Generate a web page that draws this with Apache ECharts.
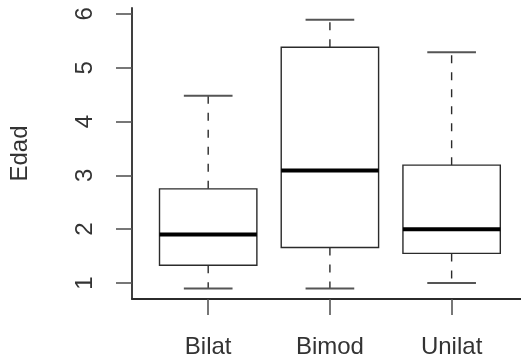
<!DOCTYPE html>
<html>
<head>
<meta charset="utf-8">
<script src="https://cdn.jsdelivr.net/npm/echarts@6/dist/echarts.min.js"></script>
<style>
  html, body { margin: 0; padding: 0; background: #fff; }
  #chart { width: 521px; height: 363px; }
</style>
</head>
<body>
<div id="chart"></div>
<script>
// Box-and-whisker summary of age per group
const categories = ['Bilat', 'Bimod', 'Unilat'];
const lowerWhisker = [0.9, 0.9, 1.0];
const lowerQuartile = [1.33, 1.66, 1.55];
const medians = [1.9, 3.09, 2.0];
const upperQuartile = [2.75, 5.38, 3.19];
const upperWhisker = [4.48, 5.89, 5.29];
const yTicks = [1, 2, 3, 4, 5, 6];

const boxData = categories.map((c, i) => [
  i + 1, lowerWhisker[i], lowerQuartile[i], medians[i], upperQuartile[i], upperWhisker[i]
]);

const FONT = '"Liberation Sans", Arial, Helvetica, sans-serif';
const INK = '#2b2b2b';

function renderBox(params, api) {
  const x = api.value(0);
  const pLow = api.coord([x, api.value(1)]);
  const pQ1 = api.coord([x, api.value(2)]);
  const pMed = api.coord([x, api.value(3)]);
  const pQ3 = api.coord([x, api.value(4)]);
  const pHigh = api.coord([x, api.value(5)]);
  const boxHalf = api.size([0.4, 0])[0];
  const capHalf = api.size([0.2, 0])[0];
  const cx = pMed[0];
  const thin = { stroke: INK, lineWidth: 1.4, fill: null };
  const dashed = { stroke: INK, lineWidth: 1.4, lineDash: [8, 9] };
  const capStyle = { stroke: '#555', lineWidth: 2 };
  return {
    type: 'group',
    children: [
      { type: 'line', shape: { x1: cx, y1: pQ1[1], x2: cx, y2: pLow[1] }, style: dashed },
      { type: 'line', shape: { x1: cx, y1: pQ3[1], x2: cx, y2: pHigh[1] }, style: dashed },
      { type: 'line', shape: { x1: cx - capHalf, y1: pLow[1], x2: cx + capHalf, y2: pLow[1] }, style: capStyle },
      { type: 'line', shape: { x1: cx - capHalf, y1: pHigh[1], x2: cx + capHalf, y2: pHigh[1] }, style: capStyle },
      { type: 'rect', shape: { x: cx - boxHalf, y: pQ3[1], width: boxHalf * 2, height: pQ1[1] - pQ3[1] }, style: Object.assign({}, thin, { fill: '#fff' }) },
      { type: 'line', shape: { x1: cx - boxHalf, y1: pMed[1], x2: cx + boxHalf, y2: pMed[1] }, style: { stroke: '#000', lineWidth: 4 } }
    ]
  };
}

const chart = echarts.init(document.getElementById('chart'), null, { renderer: 'canvas' });
chart.setOption({
  animation: false,
  backgroundColor: '#fff',
  grid: { left: 129, right: 0, top: 8, bottom: 64, containLabel: false },
  xAxis: {
    type: 'value',
    min: 0.374,
    max: 3.57,
    splitLine: { show: false },
    axisLine: { show: true, onZero: false, lineStyle: { color: INK, width: 1.8 } },
    axisTick: { show: true, length: 16, customValues: [1, 2, 3], lineStyle: { color: '#555', width: 1.6 } },
    axisLabel: {
      customValues: [1, 2, 3],
      formatter: v => categories[Math.round(v) - 1] || '',
      margin: 36,
      fontSize: 24,
      fontFamily: FONT,
      color: '#333'
    }
  },
  yAxis: {
    type: 'value',
    min: 0.703,
    max: 6.11,
    name: 'Edad',
    nameLocation: 'middle',
    nameGap: 100,
    nameTextStyle: { fontSize: 24, fontFamily: FONT, color: '#333' },
    splitLine: { show: false },
    axisLine: { show: true, onZero: false, lineStyle: { color: INK, width: 1.8 } },
    axisTick: { show: true, length: 16, customValues: yTicks, lineStyle: { color: '#555', width: 1.6 } },
    axisLabel: {
      customValues: yTicks,
      rotate: 90,
      margin: 35,
      fontSize: 24,
      fontFamily: FONT,
      color: '#333'
    }
  },
  series: [{
    type: 'custom',
    renderItem: renderBox,
    data: boxData,
    clip: false
  }]
});
</script>
</body>
</html>
